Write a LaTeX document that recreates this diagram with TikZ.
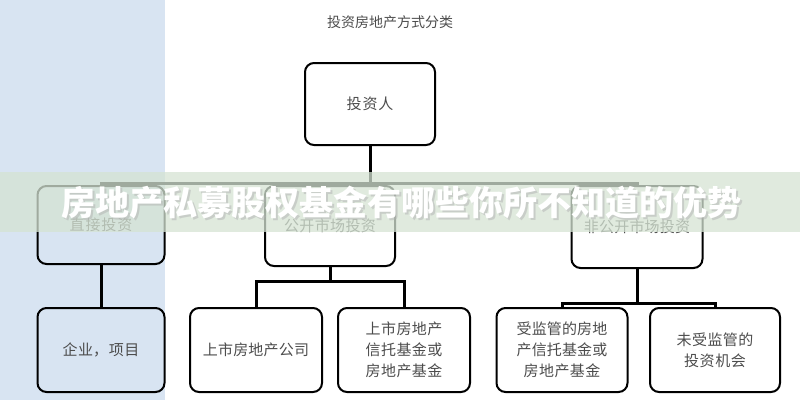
\documentclass[tikz,border=0pt]{standalone}
\usepackage{fontspec}
\newfontfamily\cjk{Noto Sans CJK SC}
\XeTeXlinebreaklocale "zh"
\XeTeXlinebreakskip = 0pt plus 1pt
\definecolor{panelblue}{HTML}{D8E4F2}
\definecolor{bannergreen}{HTML}{D5E3D3}
\usetikzlibrary{positioning}
\tikzset{
  box/.style = {rectangle, draw, line width=2pt, rounded corners=9pt,
    text width=#1, align=center, font=\cjk\fontsize{15}{21}\selectfont,
    text=black!70},
  box/.default = 100pt,
  wire/.style = {line width=3pt}
}
\begin{document}
\begin{tikzpicture}[x=1pt,y=-1pt]
    \useasboundingbox (0,0) rectangle (800,400);
    \fill[panelblue] (0,0) rectangle (165,400);

    \node[font=\cjk\fontsize{14}{16}\selectfont, text=black!70] (title) at (390,22) {投资房地产方式分类};

    \node[box, minimum width=130pt, minimum height=82pt] (inv) at (370,104) {投资人};

    \node[box=115pt, minimum width=127pt, minimum height=78pt] (direct) at (101,225) {直接投资};
    \node[box=115pt, minimum width=130pt, minimum height=80pt] (public) at (330,226) {公开市场投资};
    \node[box=118pt, minimum width=131pt, minimum height=82pt] (private) at (637,227) {非公开市场投资};

    \node[box=115pt, minimum width=127pt, minimum height=84pt] (firm) at (101,350) {企业，项目};
    \node[box=120pt, minimum width=132pt, minimum height=84pt] (listed) at (256,350) {上市房地产公司};
    \node[box, minimum width=132pt, minimum height=84pt] (reit) at (404,350) {上市房地产信托基金或房地产基金};
    \node[box, minimum width=131pt, minimum height=84pt] (reg) at (562,350) {受监管的房地产信托基金或房地产基金};
    \node[box, minimum width=130pt, minimum height=84pt] (unreg) at (715,350) {未受监管的投资机会};

    % tree lines
    \draw[wire] (inv.south) -- ++(0,37) coordinate (bus);
    \draw[wire] (bus) -| (direct.north);
    \draw[wire] (bus) -| (public.north);
    \draw[wire] (bus) -| (private.north);
    \draw[wire] (direct.south) -- (firm.north);
    \draw[wire] (public.south) -- ++(0,14) coordinate (pb);
    \draw[wire] (pb) -| (listed.north);
    \draw[wire] (pb) -| (reit.north);
    \draw[wire] (private.south) -- ++(0,34) coordinate (nb);
    \draw[wire] (nb) -| (reg.north);
    \draw[wire] (nb) -| (unreg.north);

    % banner
    \fill[bannergreen, opacity=0.75] (0,172) rectangle (800,232);
    \node[anchor=west, font=\cjk\bfseries\fontsize{34}{36}\selectfont, text=black!30, opacity=0.5] at (60,205) {房地产私募股权基金有哪些你所不知道的优势};
    \node[anchor=west, font=\cjk\bfseries\fontsize{34}{36}\selectfont, text=white] (banner) at (58,203) {房地产私募股权基金有哪些你所不知道的优势};
\end{tikzpicture}
\end{document}
